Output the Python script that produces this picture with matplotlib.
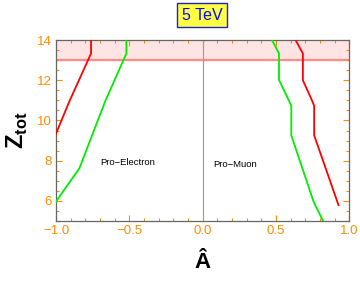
import matplotlib
matplotlib.use("Agg")
import matplotlib.pyplot as plt
from matplotlib.ticker import MultipleLocator

# Data
red_left_x = [-0.761, -0.761, -0.907, -1.02]
red_left_y = [14.0, 13.33, 10.98, 9.0]
green_left_x = [-0.520, -0.520, -0.663, -0.840, -0.997, -1.01]
green_left_y = [14.0, 13.33, 10.98, 7.63, 6.0, 5.85]
red_right_x = [0.634, 0.684, 0.684, 0.747, 0.761, 0.761, 0.927]
red_right_y = [14.0, 13.33, 12.0, 10.98, 10.73, 9.26, 5.79]
green_right_x = [0.473, 0.521, 0.521, 0.589, 0.605, 0.605, 0.757, 0.768, 0.825]
green_right_y = [14.0, 13.33, 12.02, 10.98, 10.73, 9.26, 5.96, 5.79, 4.95]
band_low, band_high = 13.0, 14.0
title_text = "5 TeV"
labels = ["Pro\u2212Electron", "Pro\u2212Muon"]
label_x = [-0.513, 0.223]
label_y = [7.92, 7.83]

orange = "#ff8c00"
plt.rcParams['font.family'] = ['Liberation Sans', 'DejaVu Sans']
plt.rcParams['mathtext.fontset'] = 'custom'
plt.rcParams['mathtext.rm'] = 'Liberation Sans'
plt.rcParams['mathtext.bf'] = 'Liberation Sans:bold'

fig = plt.figure(figsize=(3.6, 2.85), dpi=100)
ax = fig.add_axes([0.1556, 0.2246, 0.970 - 0.1556, 0.8596 - 0.2246])
ax.set_xlim(-1, 1)
ax.set_ylim(5, 14)

ax.axhspan(band_low, band_high, color="#ffe4e4", zorder=0)
ax.axhline(band_low, color="#ff8a8a", lw=1.6, zorder=1)
ax.axvline(0, color="#999999", lw=0.8, zorder=1)

ax.plot(red_left_x, red_left_y, color="#ff0000", lw=1.3, zorder=3)
ax.plot(green_left_x, green_left_y, color="#00ee00", lw=1.3, zorder=3)
ax.plot(red_right_x, red_right_y, color="#ff0000", lw=1.3, zorder=3)
ax.plot(green_right_x, green_right_y, color="#00ee00", lw=1.3, zorder=3)

for t, x, y in zip(labels, label_x, label_y):
    ax.text(x, y, t, fontsize=6.8, ha="center", va="center", color="black")

ax.xaxis.set_major_locator(MultipleLocator(0.5))
ax.xaxis.set_minor_locator(MultipleLocator(0.1))
ax.yaxis.set_major_locator(MultipleLocator(2))
ax.yaxis.set_minor_locator(MultipleLocator(0.5))
ax.set_xticks([-1.0, -0.5, 0.0, 0.5, 1.0])
ax.set_xticklabels(["\u22121.0", "\u22120.5", "0.0", "0.5", "1.0"])
ax.tick_params(which="both", direction="in", top=True, right=True, color=orange,
               labelcolor=orange, labelsize=9.5, width=0.8)
ax.tick_params(which="major", length=4, pad=3)
ax.tick_params(which="minor", length=2.2)
for s in ax.spines.values():
    s.set_color("#666666")
    s.set_linewidth(0.9)

ax.set_xlabel("\u00c2", fontsize=16, fontweight="bold", labelpad=11)
ax.set_ylabel(r"$\mathbf{Z}_{\mathbf{tot}}$", fontsize=17, labelpad=5)

fig.text(0.5617, 0.9467, title_text, fontsize=11.5, color="#0a0aee", ha="center", va="center",
         bbox=dict(boxstyle="square,pad=0.3", facecolor="#ffff44", edgecolor="#2020cc", lw=1))

fig.savefig("out.png", dpi=100)
